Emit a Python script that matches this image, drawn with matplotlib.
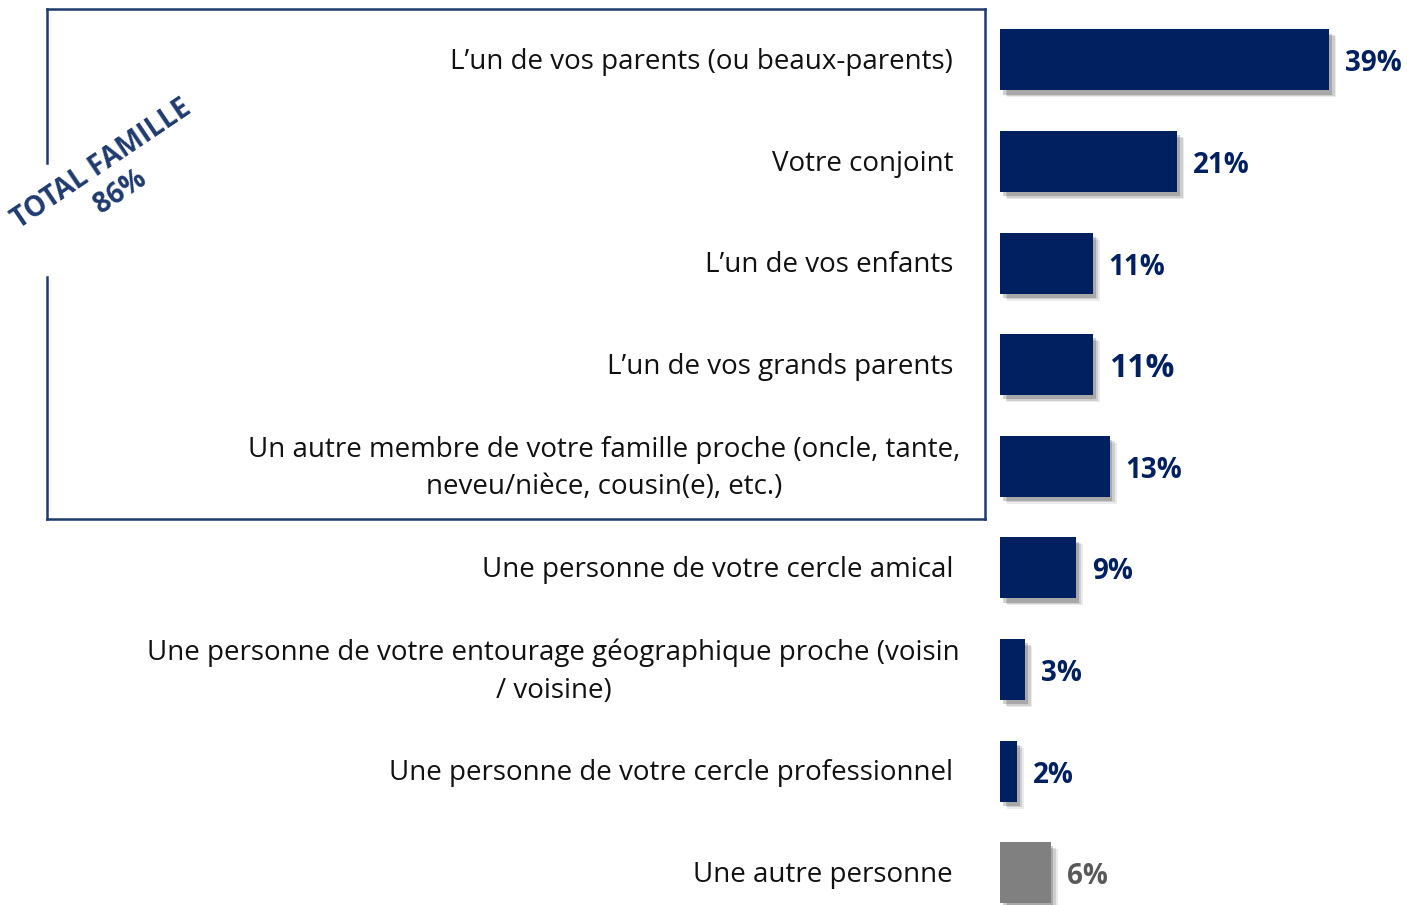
import matplotlib.pyplot as plt
import matplotlib.patheffects as pe
from matplotlib.lines import Line2D

plt.rcParams['font.family'] = ['Open Sans', 'DejaVu Sans']

# données
labels = [
    "L’un de vos parents (ou beaux-parents)",
    "Votre conjoint",
    "L’un de vos enfants",
    "L’un de vos grands parents",
    "Un autre membre de votre famille proche (oncle, tante,\nneveu/nièce, cousin(e), etc.)",
    "Une personne de votre cercle amical",
    "Une personne de votre entourage géographique proche (voisin\n/ voisine)",
    "Une personne de votre cercle professionnel",
    "Une autre personne",
]
values = [39, 21, 11, 11, 13, 9, 3, 2, 6]
value_labels = ["39%", "21%", "11%", "11%", "13%", "9%", "3%", "2%", "6%"]
total_label = "TOTAL FAMILLE\n86%"

navy = "#002060"
grey = "#808080"
box_col = "#1f3b6e"
colors = [navy] * 8 + [grey]
lab_colors = [navy] * 8 + ["#595959"]

W, H = 1407, 905
fig = plt.figure(figsize=(W / 100, H / 100), dpi=100)
ax = fig.add_axes([1000 / W, 0, 405 / W, 1])
ax.set_xlim(0, 48)
ax.set_ylim(8.317, -0.59)
ax.axis("off")

ypos = list(range(len(values)))
bars = ax.barh(ypos, values, height=0.6, color=colors)
for b in bars:
    b.set_path_effects([
        pe.SimplePatchShadow(offset=(5, -5), alpha=0.08, shadow_rgbFace="#000000"),
        pe.SimplePatchShadow(offset=(4, -4), alpha=0.12, shadow_rgbFace="#000000"),
        pe.SimplePatchShadow(offset=(2, -3), alpha=0.18, shadow_rgbFace="#000000"),
        pe.Normal()])

for i, (lab, v, vl) in enumerate(zip(labels, values, value_labels)):
    off = -40 if "\n" in lab else -47
    ax.annotate(lab, xy=(0, i), xytext=(off, -2), textcoords="offset pixels",
                ha="right", va="center", multialignment="center",
                fontsize=20, color="#111111", linespacing=1.45, annotation_clip=False)
    fs = 23 if i == 3 else 20
    ax.annotate(vl, xy=(v, i), xytext=(16, -4), textcoords="offset pixels",
                ha="left", va="center", fontsize=fs, fontweight="bold",
                color=lab_colors[i], annotation_clip=False)

# cadre "total famille"
lw = 1.8
segs = [((47, 985), (9, 9)), ((985, 985), (9, 519)), ((47, 985), (519, 519)),
        ((47, 47), (9, 163)), ((47, 47), (277, 519))]
for xs, ys in segs:
    fig.add_artist(Line2D([x / W for x in xs], [1 - y / H for y in ys],
                          color=box_col, linewidth=lw, transform=fig.transFigure))

fig.text(111 / W, 1 - 178 / H, total_label, rotation=34, ha="center", va="center",
         fontsize=20, fontweight="bold", color=box_col, rotation_mode="anchor",
         multialignment="center", linespacing=1.2)

fig.savefig("out.png", dpi=100)
